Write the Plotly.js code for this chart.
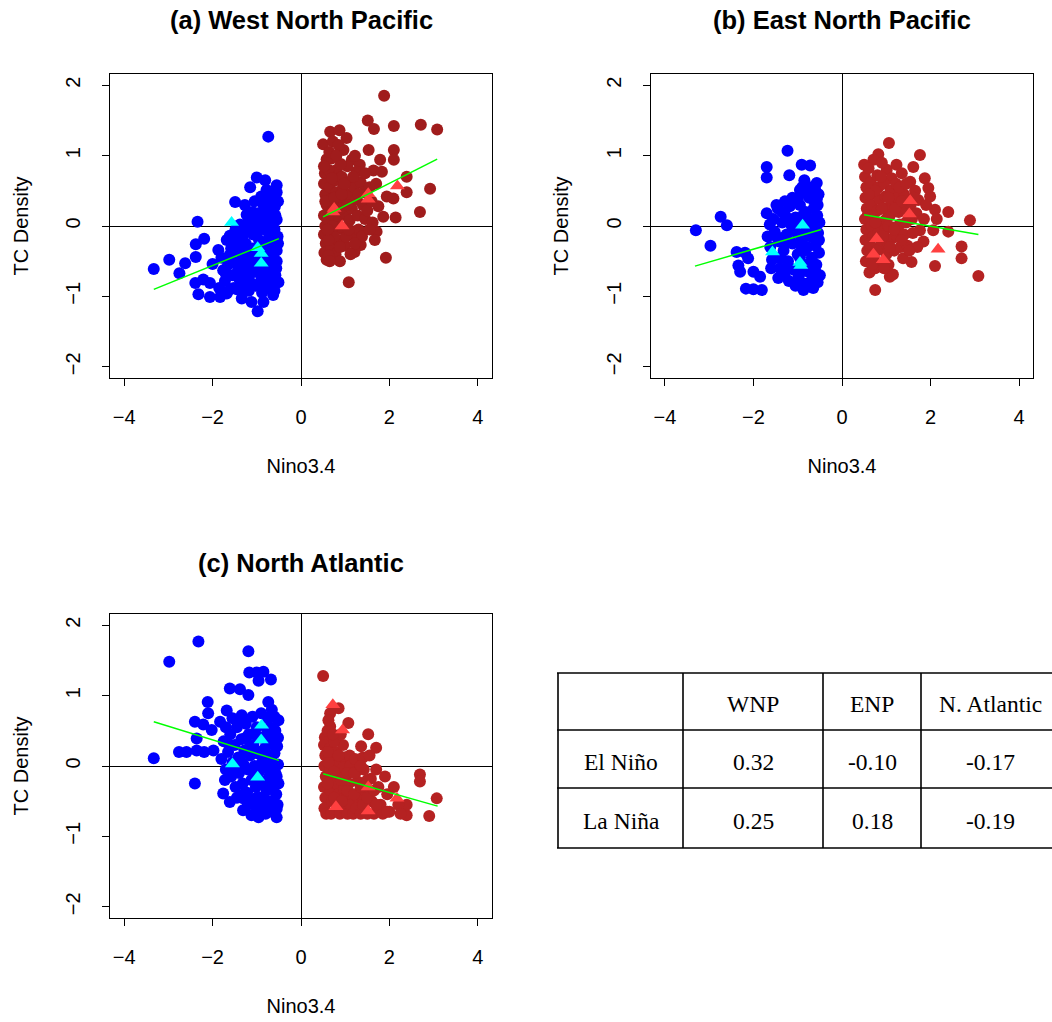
<!DOCTYPE html>
<html>
<head>
<meta charset="utf-8">
<script src="https://cdn.plot.ly/plotly-3.0.1.min.js"></script>
<style>html,body{margin:0;padding:0;background:#fff;}#chart{width:1052px;height:1022px;}</style>
</head>
<body>
<div id="chart"></div>
<script>
// ---------- DATA (Nino3.4, TC density) ----------
const panelTitles = ['(a) West North Pacific', '(b) East North Pacific', '(c) North Atlantic'];
const xTicks = [-4, -2, 0, 2, 4];
const yTicks = [-2, -1, 0, 1, 2];

const wnpLaNina = [[-3.33,-0.61],[-2.98,-0.48],[-2.75,-0.67],[-2.62,-0.53],[-2.38,-0.26],[-2.38,-0.44],[-2.19,-0.18],[-2.39,-0.81],[-2.32,-0.97],[-2.21,-0.76],[-2.06,-0.81],[-2.06,-1.01],[-2.00,-0.54],[-2.34,0.06],[-1.83,-1.01],[-1.68,-0.96],[-1.34,-1.03],[-1.12,-1.08],[-0.98,-1.21],[-0.85,-1.08],[-0.63,-0.85],[-0.63,-0.98],
[-0.74,1.27],[-1.00,0.69],[-0.81,0.65],[-0.55,0.58],[-1.15,0.55],[-0.78,0.51],[-0.55,0.48],[-0.70,0.37],[-1.49,0.34],[-1.27,0.30],[-0.59,0.28],[-1.23,0.16],[-0.97,0.18],[-0.78,0.20],[-0.55,0.09],
[-1.87,-0.34],[-1.76,-0.63],[-1.68,-0.20],[-1.61,-0.14],[-1.80,-0.45],[-1.72,-0.78],[-1.85,-0.88],[-1.60,-0.90],[-1.55,-0.70],[-1.50,-0.52],[-1.45,-0.35],[-1.42,-0.15],[-1.38,0.02],[-1.35,-0.62],[-1.30,-0.80],[-1.28,-0.45],[-1.25,-0.25],[-1.20,-0.05],[-1.18,-0.92],[-1.15,-0.68],[-1.12,-0.50],[-1.10,-0.32],[-1.08,-0.12],[-1.05,0.05],[-1.02,-0.85],[-1.00,-0.60],[-0.98,-0.40],[-0.95,-0.20],[-0.92,0.10],[-0.90,-0.72],[-0.88,-0.95],[-0.86,-0.55],[-0.84,-0.30],[-0.82,-0.05],[-0.80,0.32],[-0.78,-0.80],[-0.76,-0.62],[-0.74,-0.42],[-0.72,-0.15],[-0.70,0.05],[-0.68,-0.90],[-0.66,-0.70],[-0.64,-0.48],[-0.62,-0.25],[-0.60,-0.05],[-0.58,0.15],[-0.56,-0.60],[-0.55,-0.35],[-0.53,-0.15],[-0.52,0.35],[-0.51,-0.80],[-0.65,0.40],[-0.90,0.42],[-1.05,0.35],[-1.32,-0.95],[-1.48,-0.05],[-1.58,-0.32],[-1.65,-0.55],[-1.40,-0.75],[-1.22,-0.58],[-1.00,-0.10],[-0.85,0.02],[-0.60,-0.92],[-0.70,-0.30],[-0.95,-0.82],[-1.15,-0.38],[-1.35,-0.28],[-0.75,0.22],[-0.62,0.25],[-1.10,0.20],[-0.55,-0.50],[-0.88,-0.45],[-1.25,-0.72],[-1.52,-0.88],[-1.78,-0.95],[-0.80,-0.25],[-0.68,-0.58],
[-1.70,-0.68],[-1.62,-0.42],[-1.45,-0.90],[-1.38,-0.50],[-1.28,-0.10],[-1.15,-0.80],[-1.05,-0.45],[-0.98,-0.02],[-0.92,-0.60],[-0.82,-0.88],[-0.75,-0.05],[-0.70,-0.75],[-0.58,-0.70],[-0.52,-0.25],[-0.60,0.45],[-0.85,0.30],[-1.18,0.08],[-1.42,-0.62],[-1.55,-0.20],[-0.78,-0.50],[-0.66,0.10],[-0.95,-0.30],[-1.08,-0.65],[-1.20,-0.35]];
const wnpElNino = [[1.88,1.85],[1.51,1.50],[1.65,1.38],[2.10,1.42],[2.71,1.44],[3.08,1.37],[0.66,1.34],[0.87,1.36],[1.03,1.25],[0.50,1.16],[0.72,1.20],[0.96,1.08],[1.53,1.08],[2.10,1.08],[0.69,0.96],[1.15,0.94],[1.33,0.87],[1.79,0.94],[2.10,0.94],[0.54,0.75],[0.81,0.80],[1.26,0.77],[1.64,0.79],[1.83,0.77],[2.39,0.70],[2.92,0.53],[2.39,0.48],[2.69,0.20],[2.14,0.12],[1.86,0.13],[1.94,0.42],[2.09,0.39],[1.71,-0.08],[1.67,-0.20],[1.35,-0.27],[1.21,-0.37],[1.92,-0.45],[1.08,-0.80],
[0.52,0.60],[0.55,0.45],[0.58,0.30],[0.52,0.15],[0.55,0.00],[0.52,-0.12],[0.56,-0.25],[0.53,-0.38],[0.58,-0.48],[0.65,0.55],[0.68,0.38],[0.70,0.20],[0.66,0.05],[0.70,-0.10],[0.68,-0.30],[0.72,-0.45],[0.78,0.65],[0.80,0.48],[0.82,0.30],[0.85,0.12],[0.80,-0.02],[0.84,-0.20],[0.78,-0.40],[0.88,-0.50],[0.92,0.70],[0.95,0.55],[0.98,0.38],[1.00,0.18],[0.95,-0.05],[1.00,-0.28],[1.05,0.85],[1.08,0.62],[1.12,0.45],[1.15,0.25],[1.10,0.08],[1.18,-0.12],[1.20,0.55],[1.25,0.38],[1.28,0.15],[1.30,-0.05],[1.35,0.62],[1.40,0.30],[1.45,0.10],[1.42,0.48],[1.50,0.22],[1.55,0.55],[1.60,0.35],[1.62,0.05],[1.70,0.60],[1.75,0.28],[0.62,0.80],[0.58,0.95],[0.90,0.88],[1.22,1.00],[0.75,-0.15],[0.62,-0.42],[0.90,0.25],[1.02,-0.15],[1.38,-0.15],[1.55,-0.05],[0.64,1.05],[0.85,1.15],
[0.55,0.35],[0.60,0.10],[0.62,-0.20],[0.75,0.40],[0.72,0.00],[0.88,-0.30],[0.92,0.45],[1.05,0.30],[1.08,-0.05],[1.18,0.70],[1.30,0.45],[1.22,-0.25],[0.60,-0.05],[0.52,0.85],[0.80,1.00],[0.98,0.60],[1.45,0.75],[0.70,0.68],[1.12,-0.40],[0.65,-0.50]];
const wnpLaNinaYears = [[-1.57,0.05],[-0.98,-0.31],[-0.90,-0.39],[-0.90,-0.53]];
const wnpElNinoYears = [[0.75,0.25],[0.72,0.20],[1.52,0.46],[1.52,0.38],[0.93,0.00],[2.18,0.57]];
const wnpLaNinaFitX = [-3.33, -0.50], wnpLaNinaFitY = [-0.90, -0.18];
const wnpElNinoFitX = [0.50, 3.08],   wnpElNinoFitY = [0.13, 0.95];

const enpLaNina = [[-1.23,1.07],[-1.70,0.84],[-1.70,0.69],[-1.19,0.72],[-0.91,0.87],[-0.72,0.86],[-0.57,0.61],[-0.95,0.51],[-0.90,0.55],[-1.29,0.35],[-0.57,0.38],[-2.74,0.13],[-2.60,0.01],[-3.30,-0.06],[-2.97,-0.28],[-2.38,-0.37],[-2.19,-0.38],[-2.12,-0.46],[-2.34,-0.56],[-2.30,-0.65],[-2.00,-0.65],[-1.85,-0.72],[-2.17,-0.89],[-2.00,-0.90],[-1.81,-0.91],[-1.44,-0.74],[-0.87,-0.91],[-0.50,-0.70],[-1.70,0.18],[-1.63,0.02],
[-1.68,-0.15],[-1.62,-0.30],[-1.55,0.10],[-1.52,-0.08],[-1.50,-0.45],[-1.45,0.25],[-1.42,-0.22],[-1.40,-0.60],[-1.35,0.05],[-1.32,-0.35],[-1.28,0.15],[-1.25,-0.12],[-1.22,-0.50],[-1.20,-0.78],[-1.18,0.28],[-1.15,0.02],[-1.12,-0.25],[-1.10,-0.62],[-1.05,0.12],[-1.02,-0.10],[-1.00,-0.40],[-0.98,-0.72],[-0.95,0.30],[-0.92,0.05],[-0.90,-0.18],[-0.88,-0.55],[-0.85,-0.82],[-0.82,0.20],[-0.80,-0.05],[-0.78,-0.30],[-0.76,-0.65],[-0.74,0.40],[-0.72,0.10],[-0.70,-0.15],[-0.68,-0.45],[-0.66,-0.75],[-0.64,0.25],[-0.62,-0.02],[-0.60,-0.28],[-0.58,-0.55],[-0.56,0.15],[-0.54,-0.10],[-0.52,-0.38],[-0.51,0.05],[-0.53,0.45],[-0.60,0.50],[-0.78,0.45],[-1.00,0.38],[-0.65,-0.88],[-0.92,-0.65],[-1.30,-0.70],[-1.60,-0.60],[-1.48,0.30],[-0.55,-0.80],[-0.70,0.55],[-0.85,0.65],
[-1.58,-0.48],[-1.48,-0.15],[-1.38,-0.45],[-1.28,-0.25],[-1.18,-0.60],[-1.08,-0.05],[-0.98,-0.25],[-0.88,0.15],[-0.78,-0.55],[-0.68,0.00],[-0.60,-0.65],[-0.55,0.30],[-0.72,-0.80],[-1.05,-0.85],[-0.95,-0.45],[-1.35,0.20],[-0.62,0.35],[-0.85,-0.35],[-1.12,0.40],[-0.52,-0.20]];
const enpElNino = [[1.06,1.18],[0.82,1.02],[0.71,0.94],[0.50,0.87],[1.76,1.01],[1.23,0.87],[1.61,0.84],[1.01,0.80],[1.12,0.68],[1.54,0.63],[1.87,0.68],[1.95,0.54],[1.99,0.42],[1.72,0.37],[2.10,0.23],[2.40,0.20],[2.89,0.08],[2.14,0.10],[2.06,-0.06],[2.40,-0.08],[2.70,-0.29],[2.70,-0.46],[2.10,-0.57],[3.08,-0.71],[0.75,-0.91],[0.62,-0.66],[1.08,-0.72],[1.15,-0.69],[1.57,-0.51],[1.38,-0.46],[1.84,-0.22],[1.76,-0.06],
[0.52,0.70],[0.55,0.55],[0.53,0.40],[0.56,0.25],[0.52,0.10],[0.55,-0.05],[0.53,-0.20],[0.57,-0.35],[0.54,-0.50],[0.65,0.62],[0.68,0.45],[0.66,0.30],[0.70,0.15],[0.67,0.00],[0.70,-0.15],[0.65,-0.30],[0.72,-0.45],[0.80,0.72],[0.82,0.55],[0.85,0.38],[0.80,0.22],[0.84,0.05],[0.82,-0.10],[0.86,-0.28],[0.88,-0.55],[0.95,0.60],[0.98,0.42],[0.96,0.25],[1.00,0.10],[0.97,-0.05],[1.02,-0.22],[1.00,-0.40],[1.10,0.50],[1.12,0.30],[1.08,0.15],[1.15,-0.02],[1.12,-0.18],[1.18,-0.35],[1.22,0.60],[1.25,0.40],[1.28,0.20],[1.30,0.02],[1.25,-0.15],[1.32,-0.30],[1.40,0.45],[1.42,0.25],[1.45,0.05],[1.40,-0.12],[1.48,-0.28],[1.55,0.30],[1.58,0.10],[1.60,-0.10],[1.65,0.50],[1.68,0.18],[1.70,-0.30],[0.60,0.82],[0.90,0.90],[1.35,0.75],[0.75,-0.60],[1.05,-0.55],[1.85,0.10],[1.90,0.30],
[0.58,0.15],[0.62,-0.25],[0.75,0.50],[0.75,0.05],[0.78,-0.35],[0.90,0.25],[0.92,-0.15],[1.05,0.40],[1.05,0.00],[1.08,-0.30],[1.20,0.25],[1.18,-0.05],[1.35,0.35],[1.35,-0.20],[1.50,0.10],[1.52,-0.35],[0.60,0.45],[0.88,0.70],[1.30,0.55],[0.68,-0.55],[0.95,-0.60],[1.62,0.40],[1.45,0.60]];
const enpLaNinaYears = [[-0.89,0.01],[-1.57,-0.37],[-0.95,-0.52],[-0.93,-0.56]];
const enpElNinoYears = [[1.54,0.36],[1.52,0.17],[0.78,-0.18],[0.71,-0.40],[0.93,-0.48],[2.17,-0.33]];
const enpLaNinaFitX = [-3.32, -0.47], enpLaNinaFitY = [-0.57, -0.05];
const enpElNinoFitX = [0.50, 3.08],   enpElNinoFitY = [0.16, -0.12];

const natLaNina = [[-2.32,1.77],[-2.98,1.48],[-1.19,1.63],[-1.17,1.33],[-1.00,1.33],[-0.85,1.34],[-0.96,1.21],[-0.68,1.23],[-1.61,1.10],[-1.38,1.09],[-1.19,1.01],[-2.11,0.91],[-2.10,0.75],[-1.68,0.79],[-0.74,0.91],[-0.66,0.80],[-2.40,0.63],[-2.21,0.59],[-2.02,0.51],[-1.83,0.63],[-1.34,0.72],[-2.36,0.39],[-2.76,0.20],[-2.59,0.20],[-2.36,0.22],[-2.19,0.20],[-1.98,0.22],[-3.33,0.11],[-2.40,-0.25],[-1.72,-0.20],[-1.76,-0.39],[-1.61,-0.51],[-1.31,-0.46],[-1.31,-0.63],[-1.12,-0.70],[-0.96,-0.73],[-0.55,-0.61],[-0.55,-0.73],[-0.51,0.65],
[-1.80,0.10],[-1.75,0.35],[-1.70,-0.05],[-1.65,0.20],[-1.60,0.45],[-1.58,-0.15],[-1.55,0.05],[-1.50,0.30],[-1.48,-0.30],[-1.45,0.55],[-1.42,0.12],[-1.40,-0.10],[-1.35,0.38],[-1.32,-0.25],[-1.30,0.02],[-1.28,0.22],[-1.25,0.60],[-1.22,-0.38],[-1.20,-0.05],[-1.18,0.45],[-1.15,0.15],[-1.12,-0.20],[-1.10,-0.48],[-1.08,0.30],[-1.05,0.00],[-1.02,-0.30],[-1.00,0.55],[-0.98,0.18],[-0.95,-0.08],[-0.92,-0.45],[-0.90,0.40],[-0.88,0.05],[-0.86,-0.22],[-0.84,-0.58],[-0.82,0.25],[-0.80,-0.02],[-0.78,-0.35],[-0.76,0.50],[-0.74,0.12],[-0.72,-0.15],[-0.70,-0.50],[-0.68,0.32],[-0.66,0.00],[-0.64,-0.28],[-0.62,0.45],[-0.60,0.18],[-0.58,-0.10],[-0.56,-0.40],[-0.54,0.28],[-0.52,0.02],[-0.51,-0.25],[-0.53,-0.55],[-0.60,0.70],[-0.75,0.68],[-0.90,0.75],[-1.10,0.70],[-1.40,0.65],[-1.55,0.68],[-1.70,0.55],[-0.65,-0.65],[-0.80,-0.68],[-1.00,-0.60],[-1.20,-0.55],[-1.45,-0.45],
[-1.62,0.30],[-1.52,-0.05],[-1.38,0.10],[-1.30,-0.40],[-1.25,0.40],[-1.12,-0.05],[-1.05,0.45],[-0.95,-0.25],[-0.92,0.20],[-0.85,-0.45],[-0.80,0.40],[-0.72,-0.30],[-0.68,0.10],[-0.62,-0.50],[-0.58,0.50],[-0.55,-0.15],[-1.00,-0.45],[-1.15,0.30],[-0.70,0.55],[-0.52,0.40]];
const natElNino = [[0.50,1.28],[0.85,0.82],[0.66,0.75],[1.07,0.61],[0.66,0.56],[1.52,0.45],[1.36,0.28],[1.70,0.26],[0.54,0.41],[2.69,-0.12],[2.69,-0.22],[3.07,-0.46],[2.90,-0.71],[2.39,-0.70],[2.39,-0.55],[2.10,-0.30],
[0.52,0.30],[0.55,0.15],[0.53,0.00],[0.56,-0.15],[0.52,-0.30],[0.55,-0.45],[0.53,-0.60],[0.57,-0.68],[0.65,0.25],[0.68,0.10],[0.66,-0.05],[0.70,-0.20],[0.67,-0.35],[0.70,-0.50],[0.68,-0.68],[0.80,0.20],[0.82,0.05],[0.85,-0.10],[0.80,-0.25],[0.84,-0.40],[0.82,-0.55],[0.88,-0.68],[0.95,0.30],[0.98,0.12],[0.96,-0.02],[1.00,-0.18],[0.97,-0.32],[1.02,-0.48],[1.00,-0.62],[1.05,-0.68],[1.10,0.15],[1.12,0.00],[1.08,-0.25],[1.15,-0.40],[1.12,-0.55],[1.18,-0.68],[1.22,0.10],[1.25,-0.08],[1.28,-0.22],[1.30,-0.45],[1.25,-0.60],[1.35,-0.68],[1.40,0.12],[1.42,-0.05],[1.45,-0.35],[1.40,-0.55],[1.50,-0.68],[1.55,0.15],[1.58,-0.18],[1.60,-0.50],[1.65,-0.68],[1.70,-0.05],[1.75,-0.30],[1.80,-0.55],[1.85,-0.68],[1.90,-0.15],[1.95,-0.40],[2.00,-0.65],[2.20,-0.55],[2.25,-0.68],[0.60,0.50],[0.75,0.35],[0.90,0.45],[0.62,0.65],
[0.60,-0.25],[0.62,0.05],[0.75,-0.08],[0.75,-0.45],[0.90,-0.20],[0.92,-0.50],[1.05,-0.10],[1.05,-0.35],[1.20,-0.40],[1.20,-0.10],[1.35,-0.30],[1.35,0.00],[1.50,-0.20],[1.50,-0.45],[1.65,-0.35],[0.60,0.20],[0.85,0.15],[0.72,0.45],[1.70,-0.55],[1.95,-0.65]];
const natLaNinaYears = [[-0.89,0.58],[-0.90,0.37],[-1.55,0.03],[-0.98,-0.16]];
const natElNinoYears = [[0.72,0.87],[0.94,0.51],[1.52,-0.30],[2.17,-0.46],[0.79,-0.58],[1.52,-0.64]];
const natLaNinaFitX = [-3.33, -0.50], natLaNinaFitY = [0.63, 0.08];
const natElNinoFitX = [0.50, 3.09],   natElNinoFitY = [-0.11, -0.57];

// table of slopes
const tableHeader = ['', 'WNP', 'ENP', 'N. Atlantic'];
const tableRowLabels = ['El Niño', 'La Niña'];
const elNinoSlopes = ['0.32', '-0.10', '-0.17'];
const laNinaSlopes = ['0.25', '0.18', '-0.19'];

// ---------- DRAWING ----------
const W = 1052, H = 1022;
const px = v => v / W, py = v => 1 - v / H;
const FONT = 'Liberation Sans, Arial, sans-serif';
const SERIF = 'Liberation Serif, Times New Roman, serif';

const panels = [
  {ax: '', la: wnpLaNina, el: wnpElNino, laY: wnpLaNinaYears, elY: wnpElNinoYears,
   laFit: [wnpLaNinaFitX, wnpLaNinaFitY], elFit: [wnpElNinoFitX, wnpElNinoFitY], elColor: '#a01c1c'},
  {ax: '2', la: enpLaNina, el: enpElNino, laY: enpLaNinaYears, elY: enpElNinoYears,
   laFit: [enpLaNinaFitX, enpLaNinaFitY], elFit: [enpElNinoFitX, enpElNinoFitY], elColor: '#b52222'},
  {ax: '3', la: natLaNina, el: natElNino, laY: natLaNinaYears, elY: natElNinoYears,
   laFit: [natLaNinaFitX, natLaNinaFitY], elFit: [natElNinoFitX, natElNinoFitY], elColor: '#b52222'}
];

const traces = [];
panels.forEach(p => {
  const xa = 'x' + p.ax, ya = 'y' + p.ax;
  const base = {type: 'scatter', xaxis: xa, yaxis: ya, showlegend: false, hoverinfo: 'x+y'};
  traces.push(Object.assign({}, base, {mode: 'markers', x: p.la.map(d => d[0]), y: p.la.map(d => d[1]),
    marker: {color: '#0000ff', size: 12, line: {width: 0}}}));
  traces.push(Object.assign({}, base, {mode: 'markers', x: p.el.map(d => d[0]), y: p.el.map(d => d[1]),
    marker: {color: p.elColor, size: 12, line: {width: 0}}}));
  traces.push(Object.assign({}, base, {mode: 'markers', x: p.laY.map(d => d[0]), y: p.laY.map(d => d[1]),
    marker: {color: '#00ffff', size: 13, symbol: 'triangle-up', line: {width: 0}}}));
  traces.push(Object.assign({}, base, {mode: 'markers', x: p.elY.map(d => d[0]), y: p.elY.map(d => d[1]),
    marker: {color: '#ff4040', size: 13, symbol: 'triangle-up', line: {width: 0}}}));
  traces.push(Object.assign({}, base, {mode: 'lines', x: p.laFit[0], y: p.laFit[1], line: {color: '#00ff00', width: 1.5}}));
  traces.push(Object.assign({}, base, {mode: 'lines', x: p.elFit[0], y: p.elFit[1], line: {color: '#00ff00', width: 1.5}}));
});

function xAxis(domain, anchor) {
  return {domain: domain, anchor: anchor, range: [-4.32, 4.32], tickvals: xTicks, ticks: 'outside', ticklen: 7,
    tickwidth: 1, tickcolor: '#000', showline: true, mirror: true, linecolor: '#000', linewidth: 1,
    showgrid: false, zeroline: true, zerolinecolor: '#000', zerolinewidth: 1, ticklabelstandoff: 14,
    tickfont: {family: FONT, size: 20, color: '#000'},
    title: {text: 'Nino3.4', font: {family: FONT, size: 20, color: '#000'}, standoff: 31}};
}
function yAxis(domain, anchor) {
  return {domain: domain, anchor: anchor, range: [-2.16, 2.16], tickvals: yTicks, ticks: 'outside', ticklen: 7,
    tickwidth: 1, tickcolor: '#000', showline: true, mirror: true, linecolor: '#000', linewidth: 1,
    showgrid: false, zeroline: true, zerolinecolor: '#000', zerolinewidth: 1, tickangle: -90, ticklabelstandoff: 14,
    tickfont: {family: FONT, size: 20, color: '#000'},
    title: {text: 'TC Density', font: {family: FONT, size: 20, color: '#000'}, standoff: 28}};
}

const xdA = [px(110), px(492)], xdB = [px(650.7), px(1033.3)];
const ydTop = [py(378), py(74)], ydBot = [py(918), py(614)];

const annotations = [
  {text: '<b>' + panelTitles[0] + '</b>', x: px(301), y: py(20)},
  {text: '<b>' + panelTitles[1] + '</b>', x: px(842), y: py(20)},
  {text: '<b>' + panelTitles[2] + '</b>', x: px(301), y: py(563)}
].map(a => Object.assign(a, {xref: 'paper', yref: 'paper', showarrow: false, xanchor: 'center', yanchor: 'middle',
  font: {family: FONT, size: 25.5, color: '#000'}}));

// table geometry
const colEdges = [558, 683, 823, 921];
const colCenters = [621, 753, 872, 990];
const rowEdges = [673, 730, 788, 848];
const rowCenters = [704, 762, 821];
const shapes = [];
rowEdges.forEach(r => shapes.push({type: 'line', xref: 'paper', yref: 'paper', x0: px(557), x1: px(1070), y0: py(r), y1: py(r), line: {color: '#000', width: 1.6}}));
colEdges.forEach(c => shapes.push({type: 'line', xref: 'paper', yref: 'paper', x0: px(c), x1: px(c), y0: py(673), y1: py(848), line: {color: '#000', width: 1.6}}));
const tableRows = [tableHeader, [tableRowLabels[0]].concat(elNinoSlopes), [tableRowLabels[1]].concat(laNinaSlopes)];
tableRows.forEach((row, ri) => row.forEach((cell, ci) => {
  if (cell === '') return;
  annotations.push({text: cell, xref: 'paper', yref: 'paper', x: px(colCenters[ci]), y: py(rowCenters[ri]),
    showarrow: false, xanchor: 'center', yanchor: 'middle', font: {family: SERIF, size: 23.5, color: '#000'}});
}));

const layout = {
  width: W, height: H, margin: {l: 0, r: 0, t: 0, b: 0}, paper_bgcolor: '#fff', plot_bgcolor: '#fff',
  showlegend: false,
  xaxis: xAxis(xdA, 'y'), yaxis: yAxis(ydTop, 'x'),
  xaxis2: xAxis(xdB, 'y2'), yaxis2: yAxis(ydTop, 'x2'),
  xaxis3: xAxis(xdA, 'y3'), yaxis3: yAxis(ydBot, 'x3'),
  annotations: annotations, shapes: shapes
};

Plotly.newPlot('chart', traces, layout, {displayModeBar: false, staticPlot: true});
</script>
</body>
</html>
